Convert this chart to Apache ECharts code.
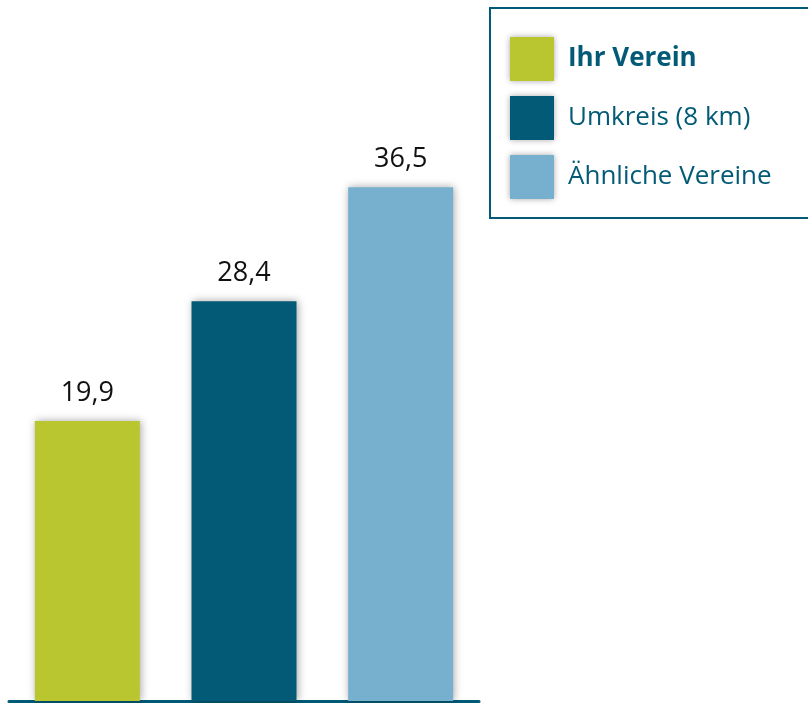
<!DOCTYPE html>
<html>
<head>
<meta charset="utf-8">
<script src="https://cdn.jsdelivr.net/npm/echarts@6/dist/echarts.min.js"></script>
<style>
  html, body { margin: 0; padding: 0; background: #fff; }
  #chart { width: 808px; height: 703px; }
</style>
</head>
<body>
<div id="chart"></div>
<script>
var names = ['Ihr Verein', 'Umkreis (8 km)', 'Ähnliche Vereine']
var values = [19.9, 28.4, 36.5]
var colors = ['#bac630', '#025a76', '#77afcf']

var series = names.map(function (n, i) {
  var d = values.map(function (v, j) { return j === i ? v : null })
  return {
    name: n,
    type: 'bar',
    stack: 'all',
    barWidth: 105,
    data: d,
    itemStyle: {
      color: colors[i],
      shadowBlur: 8,
      shadowColor: 'rgba(0,0,0,0.35)',
      shadowOffsetX: 1
    },
    label: {
      show: true,
      position: 'top',
      distance: 14,
      color: '#111',
      fontSize: 27,
      fontFamily: 'Open Sans',
      formatter: function (p) { return String(p.value).replace('.', ',') }
    }
  }
})

var chart = echarts.init(document.getElementById('chart'))
chart.setOption({
  animation: false,
  grid: { left: 9, right: 329, top: 138, bottom: 2 },
  xAxis: {
    type: 'category',
    data: names,
    axisLine: { lineStyle: { color: '#025a76', width: 3 } },
    axisTick: { show: false },
    axisLabel: { show: false }
  },
  yAxis: {
    type: 'value',
    min: 0,
    max: 40,
    show: false,
    splitLine: { show: false }
  },
  // legend frame runs past the right edge
  graphic: [{
    type: 'rect',
    shape: { x: 490, y: 8, width: 360, height: 210 },
    style: { fill: 'none', stroke: '#025a76', lineWidth: 2 }
  }],
  legend: {
    orient: 'vertical',
    left: 489,
    top: 8,
    itemWidth: 44,
    itemHeight: 44,
    itemGap: 15,
    padding: [29, 10, 20, 21],
    icon: 'rect',
    itemStyle: { shadowBlur: 6, shadowColor: 'rgba(0,0,0,0.35)' },
    formatter: function (n) { return n === names[0] ? '{b|' + n + '}' : n },
    textStyle: {
      color: '#025a76',
      fontSize: 26,
      fontFamily: 'Open Sans',
      padding: [0, 0, 0, 9],
      rich: { b: { fontWeight: 'bold', fontSize: 26, color: '#025a76', fontFamily: 'Open Sans' } }
    }
  },
  series: series
})
</script>
</body>
</html>
